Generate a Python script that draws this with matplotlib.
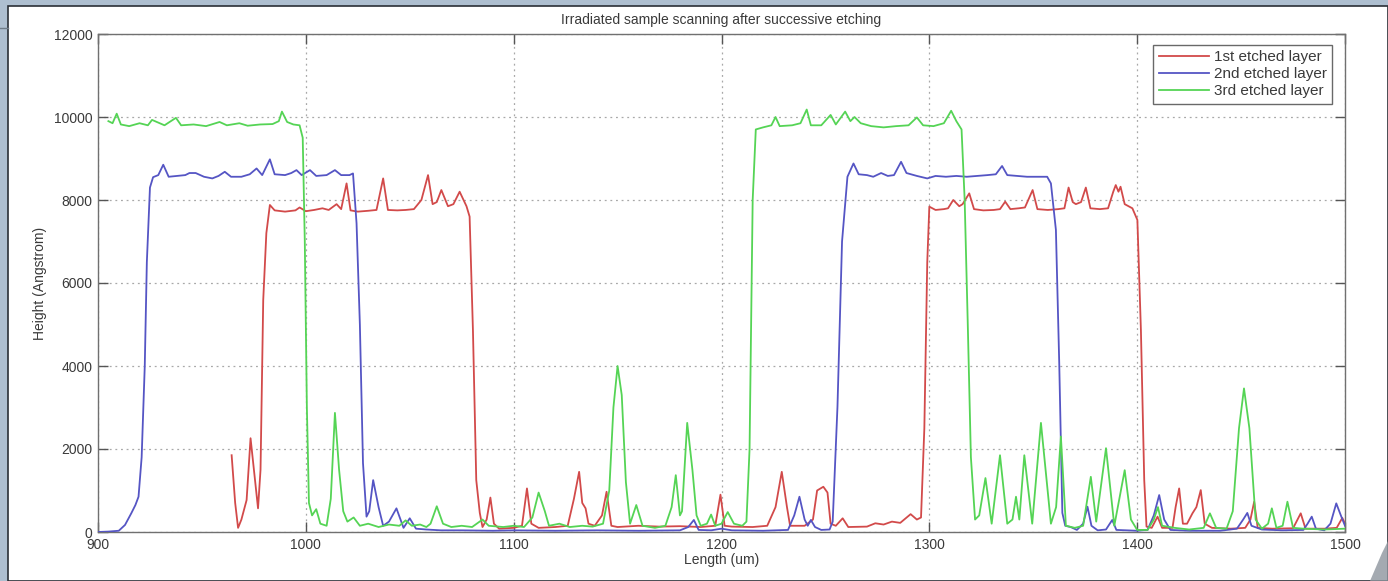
import matplotlib
matplotlib.use("Agg")
import matplotlib.pyplot as plt
from matplotlib.patches import Rectangle, Polygon

plt.rcParams['font.family'] = ['Liberation Sans', 'DejaVu Sans']

# ---- profile data: length (um) vs height (Angstrom) ----
layer1_x = [964.3, 966, 967.4, 969, 971.5, 973.4, 975, 977, 978.2, 979.5, 981, 982.7, 985, 990, 995, 997,
            1000, 1004, 1008, 1011, 1014.8, 1017, 1019.6, 1021.5, 1025, 1030, 1034, 1037.2, 1039.5, 1044,
            1048, 1052, 1055.6, 1058.8, 1061, 1063, 1065.2, 1068.4, 1071, 1074, 1077.3, 1078.8, 1080.4,
            1082, 1083.7, 1085, 1087, 1088.8, 1090.5, 1093, 1100, 1104, 1106.4, 1108.5, 1112, 1120, 1126,
            1129, 1131.5, 1133, 1134.6, 1136, 1139, 1142.5, 1144.7, 1147, 1150, 1160, 1170, 1180, 1190,
            1197, 1199.5, 1201.5, 1205, 1215, 1222, 1226, 1229, 1231.5, 1233, 1240, 1244, 1246, 1249,
            1251, 1252.5, 1255, 1258.3, 1261, 1270, 1274, 1278, 1282, 1286, 1291, 1294, 1296, 1297.6,
            1299, 1300, 1303, 1307, 1309, 1311.5, 1314.4, 1316, 1319.2, 1321.5, 1326, 1331, 1334, 1336.5,
            1339, 1343, 1346, 1349.7, 1352, 1357, 1362, 1365, 1367, 1369, 1370.5, 1373, 1375.3, 1377.5,
            1382, 1386, 1388.5, 1389.7, 1391, 1392, 1394, 1397.7, 1400.1, 1401.8, 1403.4, 1404.5, 1407,
            1409.8, 1412, 1417, 1418.5, 1420.2, 1422, 1424, 1426.6, 1428.5, 1430.6, 1432.5, 1436, 1445,
            1452, 1454.5, 1456.3, 1458, 1465, 1475, 1478.7, 1481, 1490, 1496, 1498.7, 1500]
layer1_y = [1850, 700, 100, 300, 770, 2260, 1500, 570, 1500, 5590, 7200, 7880, 7750, 7720, 7750, 7820,
            7730, 7760, 7800, 7760, 7900, 7780, 8400, 7750, 7720, 7740, 7760, 8520, 7760, 7750,
            7760, 7780, 8000, 8600, 7900, 7950, 8240, 7850, 7900, 8200, 7850, 7600, 4870,
            1250, 460, 120, 300, 830, 200, 80, 100, 150, 1050, 200, 100, 120, 150,
            800, 1450, 700, 570, 200, 150, 400, 970, 150, 120, 150, 130, 140, 120,
            150, 900, 150, 130, 120, 150, 600, 1450, 600, 150, 150, 300, 1000, 1090,
            950, 200, 150, 330, 120, 130, 210, 180, 250, 220, 430, 300, 350, 2500,
            6500, 7840, 7760, 7780, 7800, 8000, 7850, 7900, 8160, 7780, 7750, 7760, 7780, 7960,
            7780, 7800, 7820, 8240, 7780, 7760, 7780, 7800, 8300, 7950, 7900, 7950, 8300, 7800,
            7780, 7800, 8200, 8360, 8200, 8320, 7900, 7800, 7520, 4870, 1250, 130, 100,
            370, 100, 100, 600, 1050, 200, 200, 450, 600, 1010, 200, 100, 80,
            100, 300, 730, 100, 80, 90, 450, 80, 80, 100, 340, 200]

layer2_x = [900, 905, 910, 913, 916, 918, 919.5, 921, 922.5, 923.5, 925, 926.5, 929, 931.4, 934, 938,
            942, 944, 947, 951, 955, 958, 961, 964, 969, 973, 976.3, 979, 982.7, 985, 990, 993, 995.5,
            998, 1002, 1005, 1010, 1014, 1017, 1021, 1022.7, 1024.4, 1026, 1027.5, 1029.2, 1030.5,
            1032.4, 1035, 1037.2, 1040, 1043.6, 1047, 1050, 1053, 1058, 1065, 1075, 1090, 1100, 1120,
            1140, 1160, 1180, 1184, 1186.7, 1189, 1195, 1200, 1205, 1220, 1232, 1235, 1237.5, 1240,
            1241.5, 1243, 1245, 1248, 1252, 1253.5, 1255.8, 1256.7, 1258, 1260.6, 1263.5, 1266, 1270,
            1273, 1276.8, 1280, 1283, 1286.4, 1289, 1294, 1299, 1303, 1308, 1313, 1318, 1323, 1328,
            1332, 1335, 1337.5, 1342, 1347, 1352, 1356.7, 1358.5, 1360.9, 1362.5, 1364, 1365.4, 1368,
            1371, 1374, 1376.1, 1378, 1381, 1385, 1388, 1390, 1395, 1400, 1405, 1408, 1410.6, 1413,
            1416, 1425, 1440, 1448, 1451, 1453, 1455, 1460, 1470, 1480, 1482, 1484, 1486, 1490, 1493,
            1495.8, 1498, 1500]
layer2_y = [0, 10, 30, 170, 450, 650, 850, 1800, 4000, 6500, 8300, 8550, 8600, 8850, 8560, 8580,
            8600, 8650, 8650, 8560, 8520, 8580, 8680, 8560, 8560, 8620, 8760, 8600, 8980, 8620, 8600, 8650, 8720,
            8600, 8720, 8580, 8600, 8720, 8600, 8600, 8640, 7440, 5000, 1660, 370, 500,
            1250, 600, 150, 250, 570, 100, 330, 80, 60, 40, 40, 30, 40, 30,
            40, 30, 40, 120, 290, 50, 40, 80, 40, 30, 50, 400, 850, 300,
            150, 290, 120, 50, 60, 250, 3020, 4630, 7000, 8560, 8880, 8620, 8600,
            8560, 8650, 8580, 8600, 8920, 8650, 8580, 8520, 8580, 8560, 8580, 8560, 8580, 8600,
            8620, 8820, 8600, 8580, 8560, 8560, 8560, 8400, 7280, 4070, 460, 150, 120,
            50, 200, 610, 150, 40, 60, 290, 50, 40, 30, 50, 400, 890, 300,
            50, 30, 30, 80, 300, 460, 150, 60, 40, 50, 200, 370, 80, 40, 200,
            690, 400, 150]

layer3_x = [905, 907, 909, 911, 915, 920, 924, 926, 932, 937.5, 940, 946, 952, 958.5, 962, 968, 972, 978,
            984, 987, 988.5, 991, 994, 997, 998.5, 999.5, 1000.5, 1001.5, 1003, 1005, 1007, 1010, 1012,
            1014, 1016, 1018, 1020, 1023, 1026, 1030, 1035, 1040, 1045, 1048, 1051, 1055, 1058, 1060,
            1063, 1066, 1070, 1075, 1080, 1085, 1088, 1095, 1100, 1105, 1109, 1112, 1115, 1117, 1122,
            1127, 1133, 1138, 1143, 1146, 1148, 1150, 1152, 1154, 1156, 1159, 1162, 1168, 1173, 1176,
            1178, 1180, 1181, 1183.5, 1186, 1188, 1190, 1193, 1195, 1197, 1200, 1203, 1206, 1210, 1212,
            1213.5, 1215, 1216.5, 1220, 1224, 1226, 1228, 1234, 1238, 1241, 1243, 1248, 1252.5, 1255,
            1259.5, 1262, 1264, 1267, 1272, 1278, 1284, 1290, 1294, 1297, 1302, 1307, 1310.5, 1313,
            1315.5, 1317, 1318.5, 1320, 1322, 1324, 1327, 1330, 1334, 1337.5, 1340, 1341.7, 1343.3,
            1345.7, 1349.5, 1353.7, 1358.5, 1361, 1363.3, 1365.7, 1370, 1374, 1377.7, 1380.3, 1385,
            1389, 1394, 1397, 1400, 1405, 1408, 1410, 1412, 1418, 1425, 1432, 1435, 1438, 1443, 1446,
            1449, 1451.4, 1454, 1457, 1460, 1463, 1464.8, 1467, 1470, 1472.3, 1475, 1480, 1490, 1500]
layer3_y = [9900, 9850, 10080, 9820, 9780, 9850, 9800, 9930, 9800, 9980, 9800, 9820, 9780, 9880, 9800, 9850, 9790, 9820,
            9830, 9900, 10130, 9880, 9820, 9800, 9500, 7000, 3000, 700, 400, 550, 200, 150, 800,
            2870, 1500, 500, 250, 350, 150, 200, 120, 180, 150, 280, 150, 180, 120, 200,
            620, 200, 120, 150, 120, 300, 150, 120, 150, 120, 350, 950, 500, 150, 200,
            120, 150, 130, 200, 1000, 3000, 4000, 3300, 1200, 200, 650, 150, 100, 150, 600,
            1370, 400, 500, 2630, 1500, 400, 150, 200, 420, 150, 200, 480, 200, 150, 250,
            2000, 8000, 9700, 9750, 9800, 10000, 9780, 9800, 9850, 10180, 9800, 9800, 10050, 9820,
            10130, 9900, 10000, 9850, 9780, 9750, 9780, 9800, 9990, 9800, 9780, 9850, 10150, 9900,
            9700, 8000, 5000, 1800, 300, 400, 1300, 200, 1850, 200, 300, 850, 300,
            1850, 200, 2630, 200, 600, 2300, 150, 100, 150, 1330, 250, 2020,
            150, 1490, 300, 50, 50, 300, 600, 150, 100, 60, 100, 450, 100, 80, 500,
            2500, 3460, 2500, 300, 80, 200, 570, 100, 150, 730, 100, 80, 60, 80]

series_labels = ['1st etched layer', '2nd etched layer', '3rd etched layer']
x_ticks = [900, 1000, 1100, 1200, 1300, 1400, 1500]
y_ticks = [0, 2000, 4000, 6000, 8000, 10000, 12000]

W, H = 1388, 581
fig = plt.figure(figsize=(W / 100, H / 100), dpi=100)
fig.patch.set_facecolor('#aebfd0')

# slide panel behind the chart
panel = Rectangle((8 / W, 0), 1 - 8 / W, 1 - 6 / H, transform=fig.transFigure,
                  facecolor='white', edgecolor='#2a2f36', linewidth=1.2, zorder=-10)
fig.add_artist(panel)
fig.add_artist(plt.Line2D([0, 8 / W], [1 - 28 / H, 1 - 28 / H], transform=fig.transFigure,
                          color='#6f7c88', linewidth=1.0, zorder=-5))
corner = Polygon([(1370 / W, 0), (1388 / W, 0), (1388 / W, 40 / H), (1382 / W, 28 / H)],
                 closed=True, transform=fig.transFigure, facecolor='#8e959e',
                 edgecolor='none', alpha=0.8, zorder=10)
fig.add_artist(corner)

ax = fig.add_axes([98 / W, (H - 532) / H, (1345 - 98) / W, (532 - 34) / H])
ax.set_zorder(1)
ax.set_facecolor('white')

colors = ['#d24a4a', '#5555c4', '#55d455']
ax.plot(layer1_x, layer1_y, color=colors[0], lw=1.3, label=series_labels[0], zorder=3)
ax.plot(layer2_x, layer2_y, color=colors[1], lw=1.3, label=series_labels[1], zorder=3)
ax.plot(layer3_x, layer3_y, color=colors[2], lw=1.3, label=series_labels[2], zorder=3)

ax.set_xlim(900, 1500)
ax.set_ylim(0, 12000)
ax.set_xticks(x_ticks)
ax.set_yticks(y_ticks)
ax.set_xticklabels([str(v) for v in x_ticks])
ax.set_yticklabels([str(v) for v in y_ticks])

ax.grid(True, linestyle=(0, (1.5, 3)), color='#a8a8a8', linewidth=0.9, zorder=1)
ax.set_axisbelow(True)
ax.tick_params(direction='in', length=7, width=1.0, colors='#555555', labelcolor='#3a3a3a',
               labelsize=10, top=True, right=True, pad=4)
for s in ax.spines.values():
    s.set_color('#707070')
    s.set_linewidth(1.0)

ax.set_title('Irradiated sample scanning after successive etching', fontsize=10,
             color='#3a3a3a', pad=7)
ax.set_xlabel('Length (um)', fontsize=10, color='#3a3a3a', labelpad=1)
ax.set_ylabel('Height (Angstrom)', fontsize=10, color='#3a3a3a', labelpad=5)

leg = ax.legend(loc='upper right', bbox_to_anchor=(1 - 13 / 1247, 1 - 11 / 498), fontsize=11,
                frameon=True, fancybox=False, edgecolor='#444444', handlelength=3.3,
                borderpad=0.35, labelspacing=0.2, handletextpad=0.3, borderaxespad=0)
leg.get_frame().set_linewidth(1.0)
for t in leg.get_texts():
    t.set_color('#3a3a3a')

fig.savefig('out.png', dpi=100, facecolor=fig.get_facecolor())
